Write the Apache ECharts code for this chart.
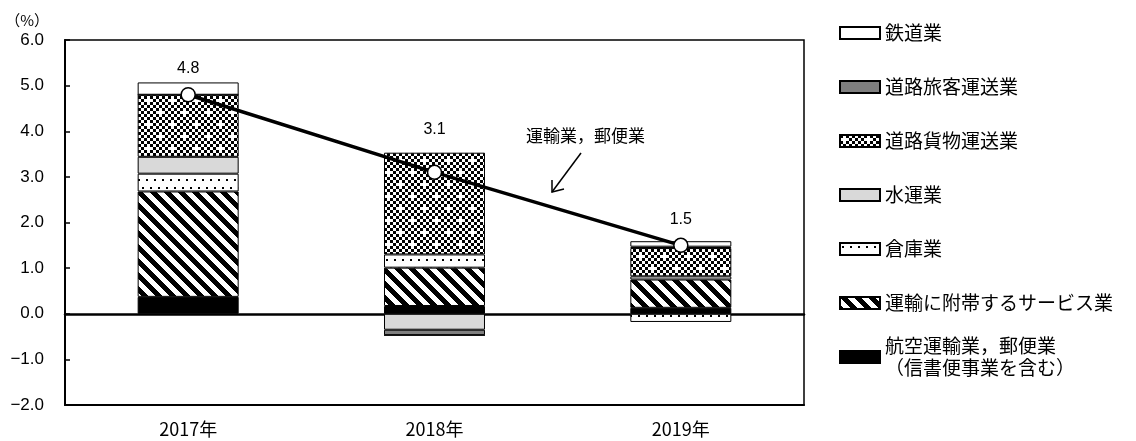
<!DOCTYPE html>
<html>
<head>
<meta charset="utf-8">
<script src="https://cdn.jsdelivr.net/npm/echarts@6/dist/echarts.min.js"></script>
<style>
  html, body { margin: 0; background: #fff; }
  #chart { width: 1136px; height: 441px; }
</style>
</head>
<body>
<div id="chart"></div>
<script>
// 運輸業，郵便業の寄与度（積み上げ）と合計の折れ線
const years = ['2017年', '2018年', '2019年']
const air = [0.37, 0.17, 0.13]            // 航空運輸業，郵便業（信書便事業を含む）
const support = [2.31, 0.84, 0.62]        // 運輸に附帯するサービス業
const warehouse = [0.39, 0.29, -0.18]     // 倉庫業
const water = [0.37, -0.35, 0.07]         // 水運業
const roadFreight = [1.36, 2.23, 0.62]    // 道路貨物運送業
const roadPassenger = [0, -0.12, 0.03]    // 道路旅客運送業
const rail = [0.27, 0, 0.12]              // 鉄道業
const total = [4.8, 3.1, 1.5]             // 運輸業，郵便業

const FONT = "'Liberation Sans', 'Noto Sans CJK JP', sans-serif"
const JP = "'Noto Sans CJK JP', sans-serif"

// canvas tiles for the hatch fills
function tile(w, h, draw) {
  const c = document.createElement('canvas'); c.width = w; c.height = h
  const g = c.getContext('2d'); g.fillStyle = '#fff'; g.fillRect(0, 0, w, h); g.fillStyle = '#000'
  draw(g)
  return { image: c, repeat: 'repeat' }
}
const checker = tile(24, 24, g => {
  for (let i = 0; i < 8; i++) for (let j = 0; j < 8; j++) {
    if ((i + j) % 2 === 0 && !((i === 1 && j === 1) || (i === 5 && j === 5))) g.fillRect(i * 3, j * 3, 3, 3)
  }
})
const dots = tile(16, 16, g => {
  g.fillRect(2, 3, 2, 2); g.fillRect(10, 3, 2, 2); g.fillRect(6, 11, 2, 2); g.fillRect(14, 11, 2, 2)
})
const stripes = tile(14, 14, g => {
  for (let x = 0; x < 14; x++) for (let y = 0; y < 14; y++) {
    if (((x - y) % 14 + 14) % 14 < 7) g.fillRect(x, y, 1, 1)
  }
})

const bar = (name, data, color) => ({
  name, type: 'bar', stack: 'tot', data, barWidth: '41%',
  itemStyle: { color, borderColor: '#000', borderWidth: 1 },
  emphasis: { disabled: true }
})

// the 2018 value label sits above its bar, not just above the point
const totalData = total.map((v, i) => i === 1 ? { value: v, label: { distance: 27 } } : v)

const AIR = '航空運輸業，郵便業\n（信書便事業を含む）'
const legendText = { fontFamily: JP, fontSize: 19, color: '#000', lineHeight: 22 }
const chart = echarts.init(document.getElementById('chart'))
chart.setOption({
  animation: false,
  textStyle: { fontFamily: FONT },
  grid: { left: 65, right: 332, top: 40, bottom: 36, show: true, borderColor: '#000', borderWidth: 1.5 },
  legend: [{
    orient: 'vertical', left: 839, top: 22, padding: 0, icon: 'rect',
    itemWidth: 40, itemHeight: 12, itemGap: 32, selectedMode: false,
    textStyle: legendText,
    data: ['鉄道業', '道路旅客運送業', '道路貨物運送業', '水運業', '倉庫業', '運輸に附帯するサービス業']
  }, {
    orient: 'vertical', left: 839, top: 324, padding: 0, icon: 'rect',
    itemWidth: 40, itemHeight: 12, selectedMode: false,
    textStyle: Object.assign({}, legendText, { padding: [22, 0, 0, 0] }),
    data: [AIR]
  }],
  xAxis: [{
    type: 'category', data: years, position: 'bottom',
    axisLine: { onZero: false, lineStyle: { color: '#000', width: 2 } },
    axisTick: { inside: true, length: 5, lineStyle: { color: '#000', width: 1.5 } },
    axisLabel: { color: '#000', fontSize: 18, margin: 15, fontFamily: JP }
  }, {
    type: 'category', data: years,
    axisLine: { onZero: true, lineStyle: { color: '#000', width: 2.5 } },
    axisTick: { show: false }, axisLabel: { show: false }
  }],
  yAxis: {
    type: 'value', min: -2, max: 6, interval: 1,
    name: '（%）', nameLocation: 'end', nameGap: 12,
    nameTextStyle: { color: '#000', fontSize: 15, align: 'right', padding: [0, 16, 0, 0], fontFamily: JP },
    axisLine: { show: true, lineStyle: { color: '#000', width: 2 } },
    axisTick: { show: true, inside: true, length: 5, lineStyle: { color: '#000', width: 1.5 } },
    splitLine: { show: false },
    axisLabel: {
      color: '#000', fontSize: 17, margin: 21,
      formatter: v => (v < 0 ? '−' : '') + Math.abs(v).toFixed(1)
    }
  },
  series: [
    bar(AIR, air, '#000'),
    bar('運輸に附帯するサービス業', support, stripes),
    bar('倉庫業', warehouse, dots),
    bar('水運業', water, '#d9d9d9'),
    bar('道路貨物運送業', roadFreight, checker),
    bar('道路旅客運送業', roadPassenger, '#7f7f7f'),
    bar('鉄道業', rail, '#fff'),
    {
      name: '運輸業，郵便業', type: 'line', data: totalData, z: 10,
      symbol: 'circle', symbolSize: 14,
      lineStyle: { color: '#000', width: 3.5 },
      itemStyle: { color: '#fff', borderColor: '#000', borderWidth: 1.5 },
      label: { show: true, position: 'top', distance: 10, fontSize: 16, color: '#000', formatter: p => p.value.toFixed(1) },
      emphasis: { disabled: true }
    }
  ],
  graphic: [
    { type: 'text', left: 526, top: 127, style: { text: '運輸業，郵便業', fontSize: 17, fontFamily: JP, fill: '#000' } },
    { type: 'line', shape: { x1: 581, y1: 153, x2: 552, y2: 192 }, style: { stroke: '#000', lineWidth: 1.5 } },
    { type: 'polyline', shape: { points: [[552, 180], [552, 192], [564, 189]] }, style: { stroke: '#000', lineWidth: 1.5, fill: null } }
  ]
})
</script>
</body>
</html>
